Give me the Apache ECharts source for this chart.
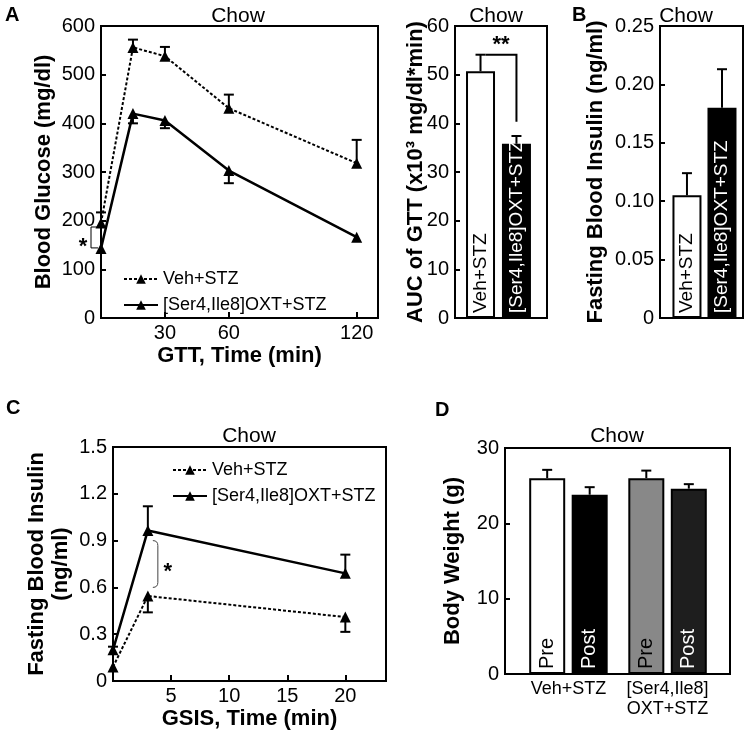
<!DOCTYPE html>
<html><head><meta charset="utf-8">
<script src="https://cdn.jsdelivr.net/npm/echarts@6/dist/echarts.min.js"></script>
<style>html,body{margin:0;padding:0;background:#fff}#c{width:749px;height:735px}</style>
</head><body><div id="c"></div>
<script>
// ---------- DATA ----------
const seriesNames = ['Veh+STZ', '[Ser4,Ile8]OXT+STZ'];
// Panel A: GTT
const glucoseTimes = [0, 15, 30, 60, 120];
const glucoseVeh = [195, 556, 538, 431, 318];
const glucoseVehErr = [217, 572, 557, 459, 366];
const glucoseOxt = [143, 420, 406, 303, 166];
const glucoseOxtErr = [143, 400, 390, 277, 166];
const glucoseXTicks = [30, 60, 120];
const glucoseSig = [0, 144, 187];           // time, lower, upper
// Panel A: AUC
const aucGroups = ['Veh+STZ', '[Ser4,Ile8]OXT+STZ'];
const aucValues = [50.7, 35.8];
const aucErr = [54.1, 37.4];
const aucSig = [54.1, 40.3];                // bracket level, drop end
// Panel B
const fastGroups = ['Veh+STZ', '[Ser4,Ile8]OXT+STZ'];
const fastValues = [0.105, 0.180];
const fastErr = [0.124, 0.213];
// Panel C: GSIS
const gsisTimes = [0, 3, 20];
const gsisVeh = [0.09, 0.545, 0.41];
const gsisVehErr = [0.09, 0.44, 0.315];
const gsisOxt = [0.20, 0.965, 0.69];
const gsisOxtErr = [0.22, 1.12, 0.81];
const gsisXTicks = [5, 10, 15, 20];
const gsisSig = [3, 0.60, 0.90];
// Panel D: body weight
const bwGroups = ['Veh+STZ', '[Ser4,Ile8]\nOXT+STZ'];
const bwBarNames = ['Pre', 'Post'];
const bwPre = [26.0, 26.0];
const bwPreErr = [27.1, 27.0];
const bwPost = [23.8, 24.6];
const bwPostErr = [24.8, 25.2];

// ---------- STYLE ----------
const FONT = '"Liberation Sans", Arial, Helvetica, sans-serif';
const BLACK = '#000';

function errRender(offset) {
  return function (params, api) {
    const x = api.value(0), m = api.value(1), e = api.value(2);
    if (e === m) return null;
    const a = api.coord([x, m]), b = api.coord([x, e]);
    const px = a[0] + offset;
    return { type: 'group', children: [
      { type: 'line', shape: { x1: px, y1: a[1], x2: px, y2: b[1] }, style: { stroke: BLACK, lineWidth: 2 } },
      { type: 'line', shape: { x1: px - 5, y1: b[1], x2: px + 5, y2: b[1] }, style: { stroke: BLACK, lineWidth: 2 } }
    ]};
  };
}

function yAxis(gi, min, max, interval, name, nameGap, fmt) {
  return {
    type: 'value', gridIndex: gi, min: min, max: max, interval: interval,
    name: name, nameLocation: 'middle', nameGap: nameGap, nameMoveOverlap: false,
    nameTextStyle: { fontSize: 22, fontWeight: 'bold', color: BLACK, fontFamily: FONT, lineHeight: 24 },
    axisLine: { show: true, onZero: false, lineStyle: { color: BLACK, width: 2 } },
    axisTick: { show: true, inside: true, length: 5, lineStyle: { color: BLACK, width: 2 } },
    axisLabel: { fontSize: 20, color: BLACK, margin: 6, fontFamily: FONT, formatter: fmt },
    splitLine: { show: false }
  };
}

function xAxisPlain(gi, min, max) {
  return {
    type: 'value', gridIndex: gi, min: min, max: max,
    axisLine: { show: true, onZero: false, lineStyle: { color: BLACK, width: 2 } },
    axisTick: { show: false }, axisLabel: { show: false }, splitLine: { show: false }
  };
}

const gridBase = { show: true, borderColor: BLACK, borderWidth: 2, backgroundColor: 'transparent', containLabel: false };

const lineVehStyle = { type: [3, 2], width: 2, color: BLACK };
const lineOxtStyle = { type: 'solid', width: 2.5, color: BLACK };

const barLabel = {
  show: true, position: 'insideBottom', rotate: 90, align: 'left', verticalAlign: 'middle',
  distance: 5, fontSize: 19, fontFamily: FONT
};

const option = {
  animation: false,
  textStyle: { fontFamily: FONT, color: BLACK },
  grid: [
    Object.assign({ left: 101, top: 26, width: 277, height: 292 }, gridBase),
    Object.assign({ left: 455, top: 26, width: 92, height: 292 }, gridBase),
    Object.assign({ left: 660, top: 26, width: 83, height: 292 }, gridBase),
    Object.assign({ left: 113, top: 447, width: 273, height: 234 }, gridBase),
    Object.assign({ left: 505, top: 448, width: 225, height: 226 }, gridBase)
  ],
  xAxis: [
    {
      type: 'value', gridIndex: 0, min: 0, max: 130,
      name: 'GTT, Time (min)', nameLocation: 'middle', nameGap: 27, nameMoveOverlap: false,
      nameTextStyle: { fontSize: 22, fontWeight: 'bold', color: BLACK, fontFamily: FONT },
      axisLine: { show: true, onZero: false, lineStyle: { color: BLACK, width: 2 } },
      axisTick: { show: true, inside: true, length: 6, customValues: glucoseXTicks, lineStyle: { color: BLACK, width: 2 } },
      axisLabel: { fontSize: 20, color: BLACK, margin: 5, customValues: glucoseXTicks },
      splitLine: { show: false }
    },
    xAxisPlain(1, -0.71, 1.85),
    xAxisPlain(2, -0.77, 1.6),
    {
      type: 'value', gridIndex: 3, min: 0, max: 23.5,
      name: 'GSIS, Time (min)', nameLocation: 'middle', nameGap: 27, nameMoveOverlap: false,
      nameTextStyle: { fontSize: 22, fontWeight: 'bold', color: BLACK, fontFamily: FONT },
      axisLine: { show: true, onZero: false, lineStyle: { color: BLACK, width: 2 } },
      axisTick: { show: true, inside: true, length: 6, customValues: gsisXTicks, lineStyle: { color: BLACK, width: 2 } },
      axisLabel: { fontSize: 20, color: BLACK, margin: 5, customValues: gsisXTicks },
      splitLine: { show: false }
    },
    {
      type: 'value', gridIndex: 4, min: -0.64, max: 1.63,
      axisLine: { show: true, onZero: false, lineStyle: { color: BLACK, width: 2 } },
      axisTick: { show: false },
      axisLabel: { fontSize: 18, color: BLACK, margin: 5, lineHeight: 20, customValues: [0, 1],
        formatter: v => bwGroups[Math.round(v)] },
      splitLine: { show: false }
    }
  ],
  yAxis: [
    yAxis(0, 0, 600, 100, 'Blood Glucose (mg/dl)', 45),
    yAxis(1, 0, 60, 10, 'AUC of GTT (x10³ mg/dl*min)', 27),
    yAxis(2, 0, 0.25, 0.05, 'Fasting Blood Insulin (ng/ml)', 52, v => v === 0 ? '0' : v.toFixed(2)),
    yAxis(3, 0, 1.5, 0.3, 'Fasting Blood Insulin\n(ng/ml)', 40, v => v === 0 ? '0' : v.toFixed(1)),
    yAxis(4, 0, 30, 10, 'Body Weight (g)', 40)
  ],
  legend: [
    { data: seriesNames, orient: 'vertical', left: 118, top: 265, itemWidth: 34, itemHeight: 12, itemGap: 8,
      selectedMode: false, textStyle: { fontSize: 18, color: BLACK, fontFamily: FONT } },
    { data: seriesNames, orient: 'vertical', left: 167, top: 456, itemWidth: 34, itemHeight: 12, itemGap: 8,
      selectedMode: false, textStyle: { fontSize: 18, color: BLACK, fontFamily: FONT } }
  ],
  graphic: [
    { type: 'text', x: 5, y: 15, style: { text: 'A', font: 'bold 20px ' + FONT, fill: BLACK, textVerticalAlign: 'middle' } },
    { type: 'text', x: 572, y: 15, style: { text: 'B', font: 'bold 20px ' + FONT, fill: BLACK, textVerticalAlign: 'middle' } },
    { type: 'text', x: 6, y: 408, style: { text: 'C', font: 'bold 20px ' + FONT, fill: BLACK, textVerticalAlign: 'middle' } },
    { type: 'text', x: 435, y: 410, style: { text: 'D', font: 'bold 20px ' + FONT, fill: BLACK, textVerticalAlign: 'middle' } },
    { type: 'text', x: 238, y: 16, style: { text: 'Chow', font: '21px ' + FONT, fill: BLACK, textAlign: 'center', textVerticalAlign: 'middle' } },
    { type: 'text', x: 496, y: 16, style: { text: 'Chow', font: '21px ' + FONT, fill: BLACK, textAlign: 'center', textVerticalAlign: 'middle' } },
    { type: 'text', x: 686, y: 16, style: { text: 'Chow', font: '21px ' + FONT, fill: BLACK, textAlign: 'center', textVerticalAlign: 'middle' } },
    { type: 'text', x: 249, y: 436, style: { text: 'Chow', font: '21px ' + FONT, fill: BLACK, textAlign: 'center', textVerticalAlign: 'middle' } },
    { type: 'text', x: 617, y: 436, style: { text: 'Chow', font: '21px ' + FONT, fill: BLACK, textAlign: 'center', textVerticalAlign: 'middle' } }
  ],
  series: [
    // ----- Panel A line chart -----
    { name: seriesNames[0], type: 'line', xAxisIndex: 0, yAxisIndex: 0, clip: false, z: 3,
      data: glucoseTimes.map((t, i) => [t, glucoseVeh[i]]),
      symbol: 'triangle', symbolSize: 11, itemStyle: { color: BLACK }, lineStyle: lineVehStyle },
    { name: seriesNames[1], type: 'line', xAxisIndex: 0, yAxisIndex: 0, clip: false, z: 3,
      data: glucoseTimes.map((t, i) => [t, glucoseOxt[i]]),
      symbol: 'triangle', symbolSize: 11, itemStyle: { color: BLACK }, lineStyle: lineOxtStyle },
    { type: 'custom', xAxisIndex: 0, yAxisIndex: 0, z: 4, silent: true, renderItem: errRender(0),
      data: glucoseTimes.map((t, i) => [t, glucoseVeh[i], glucoseVehErr[i]]) },
    { type: 'custom', xAxisIndex: 0, yAxisIndex: 0, z: 4, silent: true, renderItem: errRender(0),
      data: glucoseTimes.map((t, i) => [t, glucoseOxt[i], glucoseOxtErr[i]]) },
    { type: 'custom', xAxisIndex: 0, yAxisIndex: 0, z: 4, silent: true, data: [glucoseSig],
      renderItem: function (params, api) {
        const lo = api.coord([api.value(0), api.value(1)]), hi = api.coord([api.value(0), api.value(2)]);
        const x = lo[0] - 10;
        return { type: 'group', children: [
          { type: 'polyline', shape: { points: [[x + 7, lo[1]], [x, lo[1]], [x, hi[1]], [x + 7, hi[1]]] },
            style: { stroke: BLACK, lineWidth: 1, fill: null } },
          { type: 'text', x: x - 8, y: (lo[1] + hi[1]) / 2 + 9,
            style: { text: '*', font: 'bold 22px ' + FONT, fill: BLACK, textAlign: 'center', textVerticalAlign: 'middle' } }
        ]};
      } },
    // ----- Panel A AUC -----
    { type: 'bar', xAxisIndex: 1, yAxisIndex: 1, barWidth: 29, z: 2,
      data: aucValues.map((v, i) => ({ value: [i, v], itemStyle: { color: i ? BLACK : '#fff' }, label: { color: i ? '#fff' : BLACK } })),
      itemStyle: { borderColor: BLACK, borderWidth: 2 },
      label: Object.assign({ formatter: p => aucGroups[p.dataIndex] }, barLabel) },
    { type: 'custom', xAxisIndex: 1, yAxisIndex: 1, z: 4, silent: true, renderItem: errRender(0),
      data: aucValues.map((v, i) => [i, v, aucErr[i]]) },
    { type: 'custom', xAxisIndex: 1, yAxisIndex: 1, z: 4, silent: true, data: [[0, aucSig[0], aucSig[1]]],
      renderItem: function (params, api) {
        const a = api.coord([0, api.value(1)]), b = api.coord([1, api.value(1)]), c = api.coord([1, api.value(2)]);
        return { type: 'group', children: [
          { type: 'polyline', shape: { points: [[a[0] + 5, a[1]], [b[0], b[1]], [c[0], c[1]]] },
            style: { stroke: BLACK, lineWidth: 2, fill: null } },
          { type: 'text', x: (a[0] + 5 + b[0]) / 2, y: a[1] + 1,
            style: { text: '**', font: 'bold 22px ' + FONT, fill: BLACK, textAlign: 'center', textVerticalAlign: 'bottom' } }
        ]};
      } },
    // ----- Panel B -----
    { type: 'bar', xAxisIndex: 2, yAxisIndex: 2, barWidth: 29, z: 2,
      data: fastValues.map((v, i) => ({ value: [i, v], itemStyle: { color: i ? BLACK : '#fff' }, label: { color: i ? '#fff' : BLACK } })),
      itemStyle: { borderColor: BLACK, borderWidth: 2 },
      label: Object.assign({ formatter: p => fastGroups[p.dataIndex] }, barLabel) },
    { type: 'custom', xAxisIndex: 2, yAxisIndex: 2, z: 4, silent: true, renderItem: errRender(0),
      data: fastValues.map((v, i) => [i, v, fastErr[i]]) },
    // ----- Panel C -----
    { name: seriesNames[0], type: 'line', xAxisIndex: 3, yAxisIndex: 3, clip: false, z: 3,
      data: gsisTimes.map((t, i) => [t, gsisVeh[i]]),
      symbol: 'triangle', symbolSize: 11, itemStyle: { color: BLACK }, lineStyle: lineVehStyle },
    { name: seriesNames[1], type: 'line', xAxisIndex: 3, yAxisIndex: 3, clip: false, z: 3,
      data: gsisTimes.map((t, i) => [t, gsisOxt[i]]),
      symbol: 'triangle', symbolSize: 11, itemStyle: { color: BLACK }, lineStyle: lineOxtStyle },
    { type: 'custom', xAxisIndex: 3, yAxisIndex: 3, z: 4, silent: true, renderItem: errRender(0),
      data: gsisTimes.map((t, i) => [t, gsisVeh[i], gsisVehErr[i]]) },
    { type: 'custom', xAxisIndex: 3, yAxisIndex: 3, z: 4, silent: true, renderItem: errRender(0),
      data: gsisTimes.map((t, i) => [t, gsisOxt[i], gsisOxtErr[i]]) },
    { type: 'custom', xAxisIndex: 3, yAxisIndex: 3, z: 4, silent: true, data: [gsisSig],
      renderItem: function (params, api) {
        const lo = api.coord([api.value(0), api.value(1)]), hi = api.coord([api.value(0), api.value(2)]);
        const x = lo[0] + 10;
        const d = 'M' + (x - 5) + ' ' + hi[1] + ' Q' + x + ' ' + hi[1] + ' ' + x + ' ' + (hi[1] + 5) +
                  ' L' + x + ' ' + (lo[1] - 5) + ' Q' + x + ' ' + lo[1] + ' ' + (x - 5) + ' ' + lo[1];
        return { type: 'group', children: [
          { type: 'path', shape: { pathData: d }, style: { stroke: '#444', lineWidth: 1, fill: null } },
          { type: 'text', x: x + 10, y: (lo[1] + hi[1]) / 2 + 8,
            style: { text: '*', font: 'bold 22px ' + FONT, fill: BLACK, textAlign: 'center', textVerticalAlign: 'middle' } }
        ]};
      } },
    // ----- Panel D -----
    { name: bwBarNames[0], type: 'bar', xAxisIndex: 4, yAxisIndex: 4, barWidth: 36, barGap: '18%', z: 2,
      data: bwPre.map((v, i) => ({ value: [i, v], itemStyle: { color: i ? '#888' : '#fff' } })),
      itemStyle: { borderColor: BLACK, borderWidth: 2 },
      label: Object.assign({ formatter: p => p.seriesName, color: BLACK }, barLabel, { fontSize: 20 }) },
    { name: bwBarNames[1], type: 'bar', xAxisIndex: 4, yAxisIndex: 4, barWidth: 36, barGap: '18%', z: 2,
      data: bwPost.map((v, i) => ({ value: [i, v], itemStyle: { color: i ? '#1e1e1e' : BLACK } })),
      itemStyle: { borderColor: BLACK, borderWidth: 2 },
      label: Object.assign({ formatter: p => p.seriesName, color: '#fff' }, barLabel, { fontSize: 20 }) },
    { type: 'custom', xAxisIndex: 4, yAxisIndex: 4, z: 4, silent: true, renderItem: errRender(-21.25),
      data: bwPre.map((v, i) => [i, v, bwPreErr[i]]) },
    { type: 'custom', xAxisIndex: 4, yAxisIndex: 4, z: 4, silent: true, renderItem: errRender(21.25),
      data: bwPost.map((v, i) => [i, v, bwPostErr[i]]) }
  ]
};

const chart = echarts.init(document.getElementById('c'), null, { renderer: 'canvas' });
chart.setOption(option);
</script></body></html>
